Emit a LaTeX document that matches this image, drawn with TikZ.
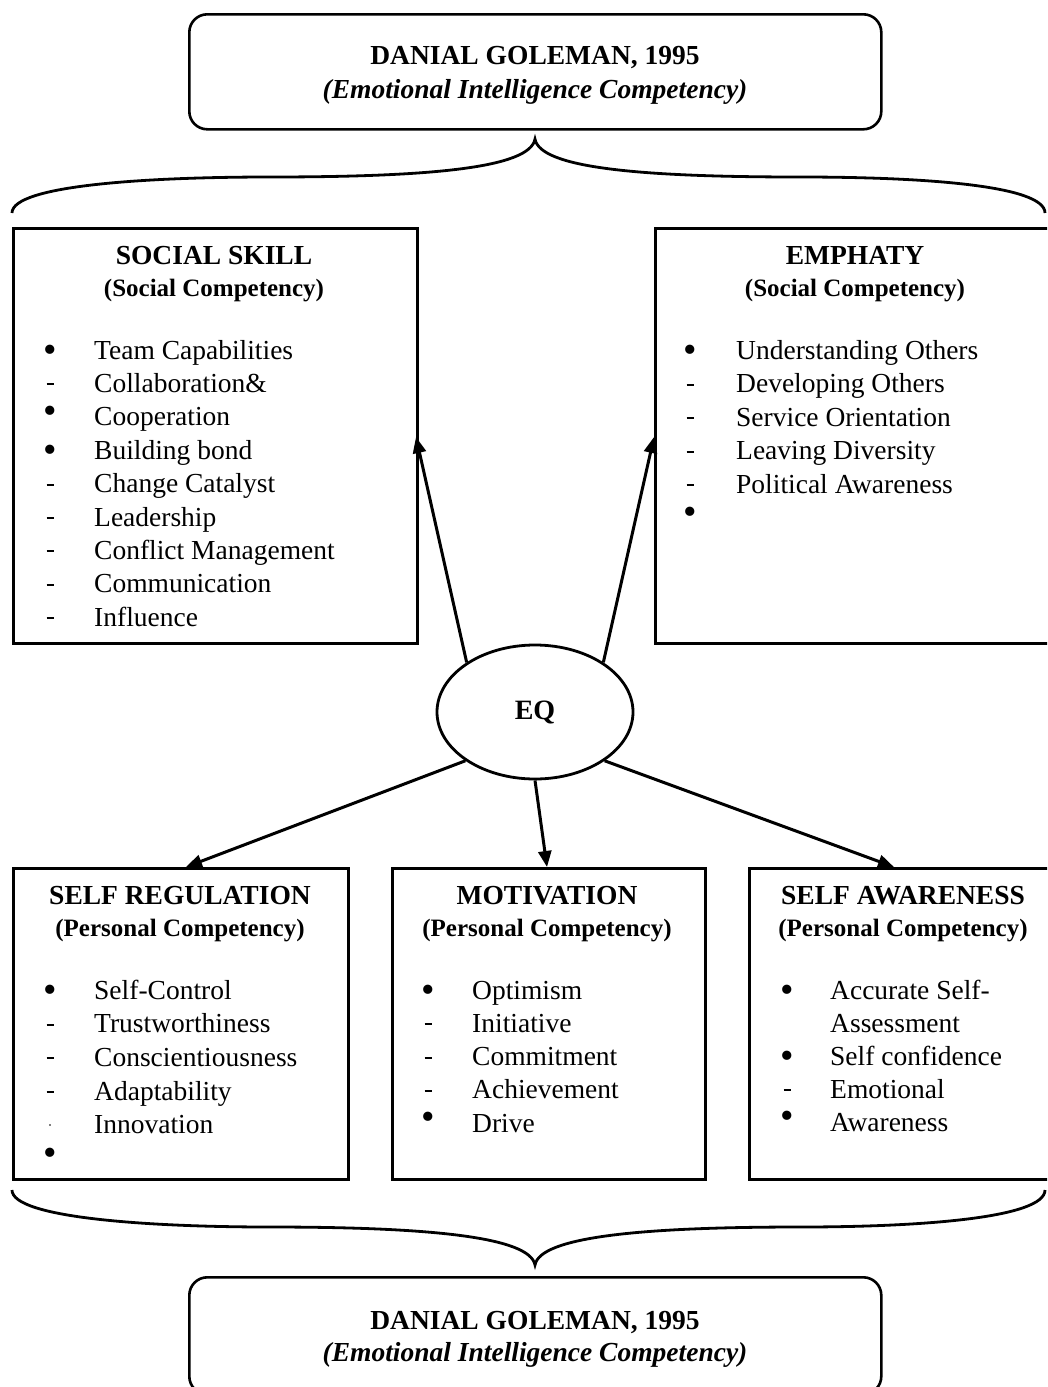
\documentclass[tikz,border=0pt]{standalone}
\usepackage{fontspec}
\setmainfont{Liberation Serif}
\usetikzlibrary{shapes.geometric,arrows.meta}
\newcommand{\bul}{\raisebox{-3.5pt}{\scalebox{1.4}{\textbullet}}}
\newcommand{\rbul}{\raisebox{2.5pt}{\scalebox{1.4}{\textbullet}}}
\newcommand{\dsh}{\rule[7pt]{7pt}{2pt}}
\newcommand{\tdt}{\textcolor{gray}{\rule[8pt]{2pt}{2pt}}}
\newcommand{\nmk}{}
\begin{document}
\begin{tikzpicture}[x=1pt,y=-1pt,
  box/.style={draw, line width=2.6pt, anchor=north west, inner sep=0pt},
  rbox/.style={draw, line width=2.6pt, rounded corners=18pt, anchor=north west, inner sep=0pt},
  item/.style={anchor=base west, inner sep=0pt, font=\fontsize{27.5}{33}\selectfont},
  mkr/.style={anchor=base, inner sep=0pt, font=\fontsize{27.5}{33}\selectfont},
  hd/.style={anchor=base, inner sep=0pt, font=\bfseries\fontsize{27.5}{33}\selectfont},
  sub/.style={anchor=base, inner sep=0pt, font=\bfseries\fontsize{25}{30}\selectfont},
  ttl/.style={anchor=base, inner sep=0pt, font=\bfseries\itshape\fontsize{27.5}{33}\selectfont},
  arr/.style={-{Triangle[length=16pt,width=13pt]}, line width=3pt},
  brace/.style={line width=2.8pt}]
\useasboundingbox (0,0) rectangle (1047,1387);
\clip (0,0) rectangle (1047,1387);

% top box
\node[rbox, minimum width=692pt, minimum height=115pt] (top) at (188,13) {};
\node[hd] (toph) at (535,64) {DANIAL GOLEMAN, 1995};
\node[ttl] (topi) at (535,98) {(Emotional Intelligence Competency)};

% top brace
\draw[brace] (12,213) .. controls (12,185) and (150,177) .. (270,177)
  .. controls (430,177) and (530,168) .. (535,139)
  .. controls (540,168) and (640,177) .. (800,177)
  .. controls (920,177) and (1045,185) .. (1045,213);

% social skill
\node[box, minimum width=404pt, minimum height=415pt] (ss) at (12,227) {};
\node[hd] (ssh) at (214,264) {SOCIAL SKILL};
\node[sub] (sss) at (214,296) {(Social Competency)};
\foreach \m/\t [count=\i] in {\bul/Team Capabilities, \dsh/Collaboration\&, \rbul/Cooperation, \bul/Building bond, \dsh/Change Catalyst, \dsh/Leadership, \dsh/Conflict Management, \dsh/Communication, \dsh/Influence} {
  \node[mkr] (ssm\i) at (50,{359+33.4*(\i-1)}) {\m};
  \node[item] (ssi\i) at (94,{359+33.4*(\i-1)}) {\t};
}

% emphaty
\node[box, minimum width=406pt, minimum height=415pt] (em) at (654,227) {};
\node[hd] (emh) at (855,264) {EMPHATY};
\node[sub] (ems) at (855,296) {(Social Competency)};
\foreach \m/\t [count=\i] in {\bul/Understanding Others, \dsh/Developing Others, \dsh/Service Orientation, \dsh/Leaving Diversity, \dsh/Political Awareness, \rbul/{}} {
  \node[mkr] (emm\i) at (690,{359+33.6*(\i-1)}) {\m};
  \node[item] (emi\i) at (736,{359+33.6*(\i-1)}) {\t};
}

% EQ
\node[ellipse, draw, line width=2.8pt, minimum width=196pt, minimum height=134pt, font=\bfseries\fontsize{28}{32}\selectfont] (eq) at (535,712) {\raisebox{-3pt}{EQ}};

% self regulation
\node[box, minimum width=335pt, minimum height=311pt] (sr) at (12,867) {};
\node[hd] (srh) at (180,904) {SELF REGULATION};
\node[sub] (srs) at (180,936) {(Personal Competency)};
\foreach \m/\t [count=\i] in {\bul/Self-Control, \dsh/Trustworthiness, \dsh/Conscientiousness, \dsh/Adaptability, \tdt/Innovation, \rbul/{}} {
  \node[mkr] (srm\i) at (50,{999+33.7*(\i-1)}) {\m};
  \node[item] (sri\i) at (94,{999+33.7*(\i-1)}) {\t};
}

% motivation
\node[box, minimum width=313pt, minimum height=311pt] (mo) at (391,867) {};
\node[hd] (moh) at (547,904) {MOTIVATION};
\node[sub] (mos) at (547,936) {(Personal Competency)};
\foreach \m/\t [count=\i] in {\bul/Optimism, \dsh/Initiative, \dsh/Commitment, \dsh/Achievement, \rbul/Drive} {
  \node[mkr] (mom\i) at (428,{999+33.3*(\i-1)}) {\m};
  \node[item] (moi\i) at (472,{999+33.3*(\i-1)}) {\t};
}

% self awareness
\node[box, minimum width=312pt, minimum height=311pt] (sa) at (748,867) {};
\node[hd] (sah) at (903,904) {SELF AWARENESS};
\node[sub] (sas) at (903,936) {(Personal Competency)};
\foreach \m/\t [count=\i] in {\bul/Accurate Self-, \nmk/Assessment, \bul/Self confidence, \dsh/Emotional, \rbul/Awareness} {
  \node[mkr] (sam\i) at (787,{999+33*(\i-1)}) {\m};
  \node[item] (sai\i) at (830,{999+33*(\i-1)}) {\t};
}

% arrow targets
\coordinate (t1) at (416,437);
\coordinate (t2) at (654,437);
\coordinate (t3) at (186,867);
\coordinate (t4) at (547,867);
\coordinate (t5) at (894,867);
\draw[arr] (eq.144) -- (t1);
\draw[arr] (eq.36) -- (t2);
\draw[arr] (eq.215) -- (t3);
\draw[arr] (eq.270) -- (t4);
\draw[arr] (eq.325) -- (t5);

% bottom brace
\draw[brace] (12,1190) .. controls (12,1218) and (150,1227) .. (270,1227)
  .. controls (430,1227) and (530,1237) .. (535,1265)
  .. controls (540,1237) and (640,1227) .. (800,1227)
  .. controls (920,1227) and (1045,1218) .. (1045,1190);

% bottom box
\node[rbox, minimum width=692pt, minimum height=117pt] (bot) at (188,1276) {};
\node[hd] (both) at (535,1329) {DANIAL GOLEMAN, 1995};
\node[ttl] (boti) at (535,1361) {(Emotional Intelligence Competency)};
\end{tikzpicture}
\end{document}
